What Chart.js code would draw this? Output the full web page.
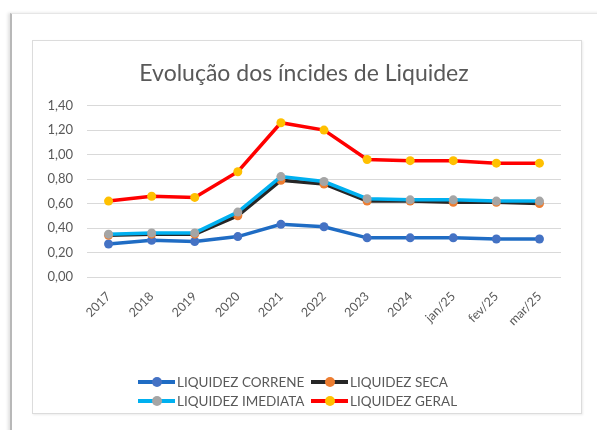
<!doctype html>
<html lang="pt">
<head>
  <meta charset="utf-8" />
  <title>Evolução dos índices de Liquidez</title>
  <script src="https://cdn.jsdelivr.net/npm/chart.js"></script>
  <style>
    html, body { margin: 0; padding: 0; background: #fff; }
    body { width: 597px; height: 430px; position: relative; overflow: hidden; font-family: Lato, "Open Sans", sans-serif; }
    .frame {
      position: absolute; left: 10px; top: 13px; width: 600px; height: 430px;
      border-left: 2px solid #b8b8b8; border-top: 1px solid #e6e6e6;
      box-shadow: -2px 0 3px rgba(0,0,0,0.12);
    }
    .box {
      position: absolute; left: 32px; top: 40px; width: 548px; height: 372px;
      border: 1px solid #dcdcdc; box-shadow: 1px 1px 2px rgba(0,0,0,0.08);
    }
    .box canvas { display: block; }
    .legend {
      position: absolute; left: 138px; top: 374px;
      display: grid; grid-template-columns: 173px 200px; row-gap: 3px;
      color: #595959; font-size: 13.5px;
    }
    .item { display: flex; align-items: center; height: 16px; white-space: nowrap; }
    .sym { position: relative; width: 37px; height: 10px; margin-right: 2px; }
    .sym .ln { position: absolute; left: 0; right: 0; top: 3px; height: 4px; }
    .sym .dot { position: absolute; left: 14px; top: 0; width: 10px; height: 10px; border-radius: 50%; }
  </style>
</head>
<body>
  <div class="frame"></div>
  <div class="box">
    <canvas id="liquidezChart" width="548" height="372"></canvas>
  </div>
  <div class="legend" id="legend"></div>

  <script>
    // Categorias e séries
    const labels = ['2017', '2018', '2019', '2020', '2021', '2022', '2023', '2024', 'jan/25', 'fev/25', 'mar/25'];
    const liquidezCorrene = [0.27, 0.30, 0.29, 0.33, 0.43, 0.41, 0.32, 0.32, 0.32, 0.31, 0.31];
    const liquidezSeca = [0.34, 0.35, 0.35, 0.50, 0.79, 0.76, 0.62, 0.62, 0.61, 0.61, 0.60];
    const liquidezImediata = [0.35, 0.36, 0.36, 0.53, 0.82, 0.78, 0.64, 0.63, 0.63, 0.62, 0.62];
    const liquidezGeral = [0.62, 0.66, 0.65, 0.86, 1.26, 1.20, 0.96, 0.95, 0.95, 0.93, 0.93];
    const yTicks = [0, 0.2, 0.4, 0.6, 0.8, 1.0, 1.2, 1.4];

    const series = [
      { label: 'LIQUIDEZ CORRENE', data: liquidezCorrene, line: '#1f6cc4', point: '#4472c4', order: 4 },
      { label: 'LIQUIDEZ SECA', data: liquidezSeca, line: '#262626', point: '#ed7d31', order: 3 },
      { label: 'LIQUIDEZ IMEDIATA', data: liquidezImediata, line: '#00b0f0', point: '#a5a5a5', order: 2 },
      { label: 'LIQUIDEZ GERAL', data: liquidezGeral, line: '#ff0000', point: '#ffc000', order: 1 }
    ];

    const textColor = '#595959';
    const font = 'Lato, "Open Sans", sans-serif';

    const ctx = document.getElementById('liquidezChart').getContext('2d');
    new Chart(ctx, {
      type: 'line',
      data: {
        labels: labels,
        datasets: series.map(s => ({
          label: s.label,
          data: s.data,
          borderColor: s.line,
          backgroundColor: s.point,
          pointBackgroundColor: s.point,
          pointBorderColor: s.point,
          pointRadius: 4.5,
          pointBorderWidth: 0,
          borderWidth: 3.5,
          tension: 0,
          order: s.order
        }))
      },
      options: {
        responsive: false,
        animation: false,
        layout: { padding: { left: 14, right: 20, bottom: 76 } },
        plugins: {
          legend: { display: false },
          tooltip: { enabled: false },
          title: {
            display: true,
            text: 'Evolução dos íncides de Liquidez',
            color: textColor,
            font: { family: font, size: 23, weight: 'normal' },
            padding: { top: 19, bottom: 18 }
          }
        },
        scales: {
          x: {
            offset: true,
            grid: { display: false },
            border: { display: false },
            ticks: {
              color: textColor,
              font: { family: font, size: 12.5 },
              minRotation: 45,
              maxRotation: 45,
              padding: 4
            },
            afterFit: scale => { scale.height = 60; }
          },
          y: {
            min: 0,
            max: 1.4,
            afterBuildTicks: scale => { scale.ticks = yTicks.map(v => ({ value: v })); },
            grid: { color: '#d9d9d9', lineWidth: 1, drawTicks: false },
            border: { display: false },
            ticks: {
              color: textColor,
              font: { family: font, size: 13 },
              padding: 14,
              callback: v => v.toFixed(2).replace('.', ',')
            },
            afterFit: scale => { scale.width = 40; }
          }
        }
      }
    });

    // Legenda em duas colunas, como no Excel
    const legend = document.getElementById('legend');
    series.forEach(s => {
      const item = document.createElement('div');
      item.className = 'item';
      item.innerHTML = '<span class="sym"><span class="ln" style="background:' + s.line + '"></span>' +
        '<span class="dot" style="background:' + s.point + '"></span></span>' + s.label;
      legend.appendChild(item);
    });
  </script>
</body>
</html>
